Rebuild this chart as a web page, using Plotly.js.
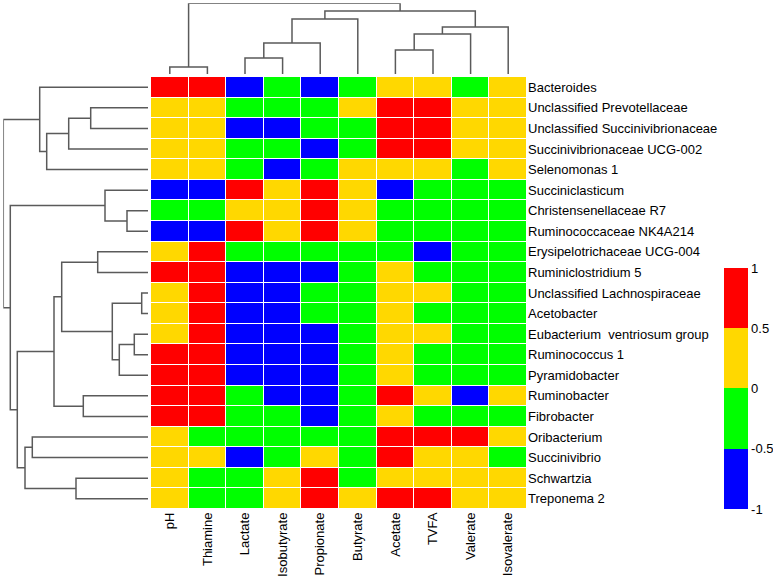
<!DOCTYPE html>
<html>
<head>
<meta charset="utf-8">
<script src="https://cdn.plot.ly/plotly-3.0.1.min.js"></script>
<style>html,body{margin:0;padding:0;background:#fff;}#chart{width:773px;height:580px;}</style>
</head>
<body>
<div id="chart"></div>
<script>
// ---- data ----
const columns = ["pH","Thiamine","Lactate","Isobutyrate","Propionate","Butyrate","Acetate","TVFA","Valerate","Isovalerate"];
const rows = ["Bacteroides","Unclassified Prevotellaceae","Unclassified Succinivibrionaceae","Succinivibrionaceae UCG-002",
  "Selenomonas 1","Succiniclasticum","Christensenellaceae R7","Ruminococcaceae NK4A214","Erysipelotrichaceae UCG-004",
  "Ruminiclostridium 5","Unclassified Lachnospiraceae","Acetobacter","Eubacterium  ventriosum group","Ruminococcus 1",
  "Pyramidobacter","Ruminobacter","Fibrobacter","Oribacterium","Succinivibrio","Schwartzia","Treponema 2"];
// correlation values (one array per row, columns in order above)
const corr = [
  [ 0.75, 0.75,-0.75,-0.25,-0.75,-0.25, 0.25, 0.25,-0.25, 0.25],
  [ 0.25, 0.25,-0.25,-0.25,-0.25, 0.25, 0.75, 0.75, 0.25, 0.25],
  [ 0.25, 0.25,-0.75,-0.75,-0.25,-0.25, 0.75, 0.75, 0.25, 0.25],
  [ 0.25, 0.25,-0.25,-0.25,-0.75,-0.25, 0.75, 0.75, 0.25, 0.25],
  [ 0.25, 0.25,-0.25,-0.75,-0.25, 0.25, 0.25, 0.25,-0.25, 0.25],
  [-0.75,-0.75, 0.75, 0.25, 0.75, 0.25,-0.75,-0.25,-0.25,-0.25],
  [-0.25,-0.25, 0.25, 0.25, 0.75, 0.25,-0.25,-0.25,-0.25,-0.25],
  [-0.75,-0.75, 0.75, 0.25, 0.75, 0.25,-0.25,-0.25,-0.25,-0.25],
  [ 0.25, 0.75,-0.25,-0.25,-0.25,-0.25,-0.25,-0.75,-0.25,-0.25],
  [ 0.75, 0.75,-0.75,-0.75,-0.75,-0.25, 0.25,-0.25,-0.25,-0.25],
  [ 0.25, 0.75,-0.75,-0.75,-0.25,-0.25, 0.25, 0.25,-0.25,-0.25],
  [ 0.25, 0.75,-0.75,-0.75,-0.25,-0.25, 0.25,-0.25,-0.25,-0.25],
  [ 0.25, 0.75,-0.75,-0.75,-0.75,-0.25, 0.25, 0.25,-0.25,-0.25],
  [ 0.75, 0.75,-0.75,-0.75,-0.75,-0.25, 0.25,-0.25,-0.25,-0.25],
  [ 0.75, 0.75,-0.75,-0.75,-0.75,-0.25, 0.25,-0.25,-0.25,-0.25],
  [ 0.75, 0.75,-0.25,-0.75,-0.75,-0.25, 0.75, 0.25,-0.75, 0.25],
  [ 0.75, 0.75,-0.25,-0.25,-0.75,-0.25, 0.25,-0.25,-0.25,-0.25],
  [ 0.25,-0.25,-0.25,-0.25,-0.25,-0.25, 0.75, 0.75, 0.75, 0.25],
  [ 0.25, 0.25,-0.75,-0.25, 0.25,-0.25, 0.75, 0.25, 0.25,-0.25],
  [ 0.25,-0.25,-0.25, 0.25, 0.75,-0.25, 0.25, 0.25, 0.25, 0.25],
  [ 0.25,-0.25,-0.25, 0.25, 0.75, 0.25, 0.75, 0.75, 0.25, 0.25]
];
// row dendrogram linkage (leaf ids 0..20, merged clusters numbered from 21)
const rowMergeA = [10,12,6,22,21,5,8,1,15,19,28,27,32,31,0,17,36,33,26,35];
const rowMergeB = [11,13,7,14,24,23,9,2,16,20,3,25,29,4,34,18,30,37,38,39];
const rowHeights = [6.3,13.7,21,28.7,35.7,43,50.3,57.3,64.7,72,79.3,86.3,94,101.3,108.3,115.7,123,130.7,137.7,144.7];
// column dendrogram linkage (leaf ids 0..9, merged clusters numbered from 10)
const colMergeA = [0,2,6,11,12,14,13,16,10];
const colMergeB = [1,3,7,4,8,9,5,15,17];
const colHeights = [7,16,24,31,40,47,55,63,70.7];
const cbTicks = [-1,-0.5,0,0.5,1];

// ---- build dendrogram segments from linkage ----
function dendro(n, A, B, H){
  const pos = [], hgt = [];
  for (let i=0;i<n;i++){ pos[i]=i; hgt[i]=0; }
  const p = [], h = [];
  for (let k=0;k<A.length;k++){
    const a=A[k], b=B[k], id=n+k;
    p.push(pos[a],pos[a],pos[b],pos[b],null);
    h.push(hgt[a],H[k],H[k],hgt[b],null);
    pos[id]=(pos[a]+pos[b])/2; hgt[id]=H[k];
  }
  return {p:p,h:h};
}
const rd = dendro(rows.length,rowMergeA,rowMergeB,rowHeights);
const cd = dendro(columns.length,colMergeA,colMergeB,colHeights);

const W=773, Hh=580;
const fx = v=>v/W, fy = v=>1-v/Hh;
const font = 'Liberation Sans, Arial, sans-serif';
const idxC = columns.map((_,i)=>i), idxR = rows.map((_,i)=>i);

const yellow = '#ffd800';
const traces = [
  {
    type:'heatmap', x:idxC, y:idxR, z:corr, zmin:-1, zmax:1,
    xgap:1, ygap:1, hoverinfo:'skip',
    colorscale:[[0,'#0000ff'],[0.25,'#0000ff'],[0.25,'#00ff00'],[0.5,'#00ff00'],[0.5,yellow],[0.75,yellow],[0.75,'#ff0000'],[1,'#ff0000']],
    colorbar:{
      x:fx(724), xanchor:'left', y:fy(509), yanchor:'bottom',
      len:(509-268)/Hh, lenmode:'fraction', thickness:24, thicknessmode:'pixels',
      xpad:0, ypad:0, outlinewidth:0, tickvals:cbTicks, ticktext:cbTicks.map(String),
      ticks:'', ticklabelpad:1, tickfont:{family:font,size:13,color:'#000'}
    }
  },
  { type:'scatter', mode:'lines', x:cd.p, y:cd.h, xaxis:'x', yaxis:'y2',
    line:{color:'#5a5a5a',width:1.5}, hoverinfo:'skip', connectgaps:false },
  { type:'scatter', mode:'lines', x:rd.h, y:rd.p, xaxis:'x2', yaxis:'y',
    line:{color:'#5a5a5a',width:1.5}, hoverinfo:'skip', connectgaps:false }
];

const layout = {
  width:W, height:Hh, margin:{l:0,r:0,t:0,b:0},
  paper_bgcolor:'#fff', plot_bgcolor:'#fff', showlegend:false,
  font:{family:font,size:13,color:'#000'},
  xaxis:{domain:[fx(151),fx(527)], range:[-0.5,columns.length-0.5], tickvals:idxC, ticktext:columns,
    tickangle:-90, ticks:'', showgrid:false, zeroline:false, showline:false, anchor:'y',
    tickfont:{family:font,size:13,color:'#000'}, automargin:false},
  yaxis:{domain:[fy(509),fy(77)], range:[rows.length-0.5,-0.5], tickvals:idxR, ticktext:rows,
    side:'right', ticks:'', showgrid:false, zeroline:false, showline:false, anchor:'x',
    tickfont:{family:font,size:13,color:'#000'}, automargin:false},
  xaxis2:{domain:[fx(3.3),fx(148)], range:[Math.max(...rowHeights),0], visible:false, anchor:'y'},
  yaxis2:{domain:[fy(74),fy(3.3)], range:[0,Math.max(...colHeights)], visible:false, anchor:'x'}
};

Plotly.newPlot('chart', traces, layout, {staticPlot:true, displayModeBar:false});
</script>
</body>
</html>
